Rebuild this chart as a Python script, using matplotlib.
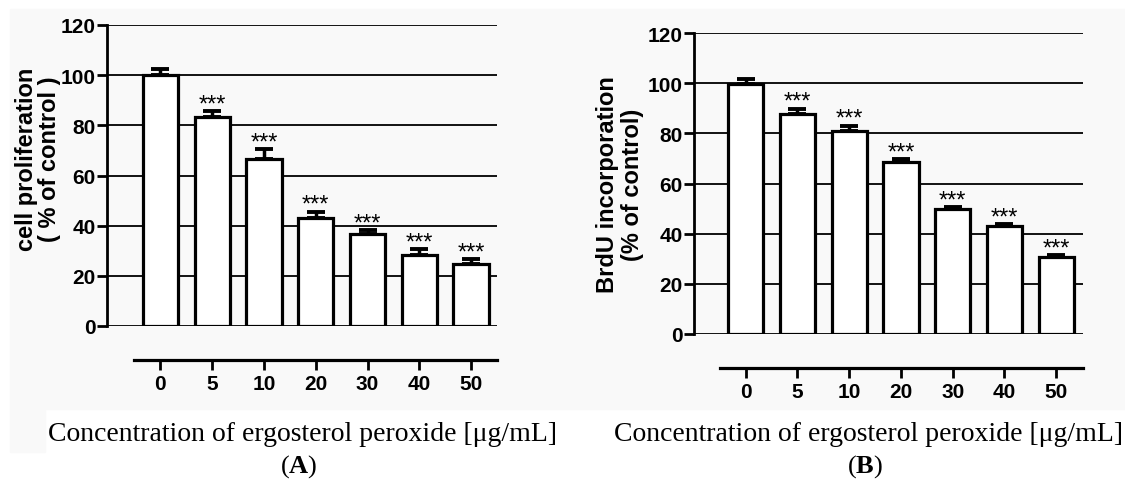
import numpy as np
import matplotlib
matplotlib.use("Agg")
import matplotlib.pyplot as plt
from matplotlib.patches import Rectangle

conc_labels = ["0", "5", "10", "20", "30", "40", "50"]

# panel A: cell proliferation (% of control)
prolif_mean = [100, 83.3, 66.4, 43.0, 36.8, 28.4, 24.6]
prolif_err = [2.5, 2.5, 4.2, 2.6, 1.3, 2.1, 2.0]

# panel B: BrdU incorporation (% of control)
brdu_mean = [99.8, 87.6, 80.8, 68.4, 50.0, 42.9, 30.6]
brdu_err = [2.0, 2.2, 2.3, 1.4, 0.6, 1.0, 0.8]

stars = ["", "***", "***", "***", "***", "***", "***"]

plt.rcParams["mathtext.fontset"] = "custom"
plt.rcParams["mathtext.bf"] = "Liberation Serif:bold"
plt.rcParams["mathtext.rm"] = "Liberation Serif"

W, H = 1125, 485
fig = plt.figure(figsize=(W / 100, H / 100), dpi=100)

# faint grey backdrop of the scanned panels
bg = "#f9f9f9"
fig.patches.append(Rectangle((10 / W, 1 - 410 / H), 1 - 10 / W, 400 / H,
                             transform=fig.transFigure, color=bg, zorder=-5))
fig.patches.append(Rectangle((10 / W, 1 - 453 / H), 35 / W, 43 / H,
                             transform=fig.transFigure, color=bg, zorder=-5))


def panel(rect, means, errs, ylabel, xlim, lab_xy, lspace):
    ax = fig.add_axes(rect)
    ax.set_facecolor("none")
    x = np.arange(len(means))
    for y in range(0, 121, 20):
        ax.axhline(y, color="black", lw=1.3, zorder=1)
    ax.bar(x, means, width=0.68, color="white", edgecolor="black",
           linewidth=2.3, zorder=3)
    ax.errorbar(x, means, yerr=[np.zeros(len(errs)), errs], fmt="none",
                ecolor="black", elinewidth=2.5, capsize=6.5, capthick=2.8,
                zorder=4)
    for xi, m, e, s in zip(x, means, errs, stars):
        ax.text(xi, m + e + 0.3, s, ha="center", va="baseline",
                fontsize=17, family="Liberation Sans", zorder=5)
    ax.set_xlim(*xlim)
    ax.set_ylim(0, 120)
    ax.set_yticks(range(0, 121, 20))
    ax.set_xticks(x)
    ax.set_xticklabels(conc_labels)
    for s in ["top", "right"]:
        ax.spines[s].set_visible(False)
    ax.spines["left"].set_linewidth(2.0)
    ax.spines["bottom"].set_position(("outward", 24.5))
    ax.spines["bottom"].set_bounds(-0.5, xlim[1])
    ax.spines["bottom"].set_linewidth(2.3)
    ax.tick_params(axis="y", length=7, width=2, pad=1)
    ax.tick_params(axis="x", length=7, width=2, pad=3)
    for lab in ax.get_xticklabels() + ax.get_yticklabels():
        lab.set_fontsize(15)
        lab.set_fontweight("bold")
        lab.set_family("Liberation Sans")
    ax.set_ylabel(ylabel, fontsize=17, fontweight="bold",
                  family="Liberation Sans", linespacing=lspace)
    ax.yaxis.set_label_coords(*lab_xy)
    return ax


axA = panel([107 / W, 1 - 327 / H, 390 / W, 301 / H], prolif_mean, prolif_err,
            "cell proliferation\n( % of control )", (-1.03, 6.5),
            (-0.118, 0.558), 1.0)
axB = panel([694 / W, 1 - 335 / H, 389 / W, 301 / H], brdu_mean, brdu_err,
            "BrdU incorporation\n(% of control)", (-1.0, 6.52),
            (-0.128, 0.5), 1.1)

xlab = "Concentration of ergosterol peroxide [\u03bcg/mL]"
for xc, panel_tag in [(302, r"($\mathbf{A}$)"), (868, r"($\mathbf{B}$)")]:
    fig.text(xc / W, 1 - 435 / H, xlab, ha="center", va="center",
             fontsize=20, family="Liberation Serif")
    fig.text((xc - 3) / W, 1 - 467 / H, panel_tag, ha="center", va="center",
             fontsize=19, family="Liberation Serif")

fig.savefig("out.png", dpi=100)
